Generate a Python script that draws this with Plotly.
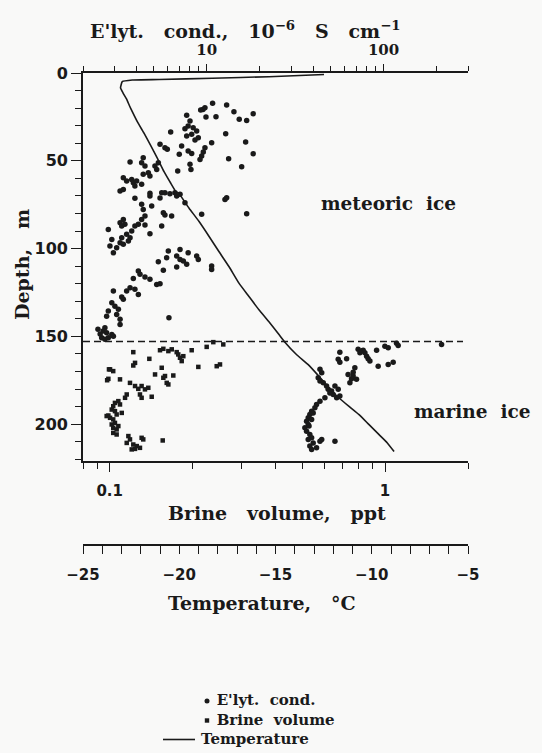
import plotly.graph_objects as go

# ---------------- data ----------------
# Electrolytic conductivity (10^-6 S/cm), meteoric ice
cond_met = [10.8,9.53,9.25,9.78,12.97,14.26,11.29,9.91,7.71,15.28,
            16.83,18.33,8.05,7.86,7.54,8.39,8.78,8.23,7.71,8.97,
            8.59,6.26,7.22,10.67,9.78,9.57,9.37,9.17,12.81,16.61,
            18.33,13.31,15.77,5.45,5.81,5.99,7.00,7.86,8.23,8.05,
            8.15,6.86,5.33,5.10,5.22,3.69,4.38,4.29,4.48,4.68,
            4.78,4.38,3.38,3.53,3.77,3.85,3.93,4.29,4.02,3.24,
            3.38,4.78,5.57,6.62,3.93,4.29,4.78,4.89,5.45,5.81,
            6.20,6.77,5.69,5.81,6.34,4.38,4.48,4.29,3.38,3.24,
            3.45,3.31,2.78,2.91,2.84,2.97,3.10,3.24,3.31,3.53,
            3.77,3.93,4.11,4.48,3.69,3.61,3.38,4.78,5.57,7.07,
            7.54,9.37,12.69,12.97,16.83,6.07,7.07,7.86,8.78,8.97,
            6.77,7.07,7.38,7.71,6.77,5.94,5.33,5.69,10.67,10.67,
            4.11,4.20,4.48,4.78,5.22,5.45,3.85,3.69,3.93,3.53,
            3.31,3.38,2.97,4.11,2.91,3.03,3.17,3.10,3.24,3.24,
            2.78,2.72,2.66,2.60,2.72,2.78,2.55,2.91,2.97,2.66,
            6.12,2.50,2.43]
depth_cond_met = [17.3,20.8,21.1,19.8,18.2,22.1,24.9,25.1,24.1,26.4,
                  27.0,23.2,27.4,30.2,31.7,31.2,33.0,34.9,35.9,36.9,
                  38.2,33.6,41.6,39.7,42.6,45.0,47.3,49.2,34.6,39.3,
                  46.0,48.8,53.4,40.6,42.6,43.5,46.3,44.4,45.8,52.0,
                  54.9,55.8,51.1,53.0,54.9,50.7,48.3,51.1,53.0,56.8,
                  58.7,57.7,59.7,61.5,60.6,62.5,64.4,63.4,61.5,67.2,
                  66.3,68.5,68.2,68.2,71.4,74.8,70.1,75.8,71.2,68.2,
                  68.8,70.1,79.6,80.9,81.5,77.7,81.5,83.4,83.4,85.3,
                  86.2,87.2,89.1,94.8,98.6,102.4,99.5,96.7,93.8,91.9,
                  90.0,87.2,86.2,86.6,93.8,95.7,97.6,91.6,87.2,69.1,
                  73.9,80.5,72.0,71.1,80.2,101.4,100.5,102.4,104.3,106.2,
                  104.3,106.2,107.1,109.0,110.5,105.2,107.5,112.4,110.0,111.9,
                  112.8,114.7,116.2,117.5,120.4,120.1,117.0,122.3,123.2,124.2,
                  127.6,128.9,124.2,126.1,130.9,132.8,134.6,137.5,140.3,143.2,
                  135.6,138.5,145.1,147.0,148.0,150.8,150.8,148.9,149.9,151.7,
                  139.4,148.7,145.9]

# Electrolytic conductivity, marine ice
cond_mar = [56.6,55.4,56.6,61.8,71.8,75.1,78.4,80.2,81.8,83.7,
            76.7,73.5,91.3,101.7,106.2,118.4,120.9,93.2,106.2,113.3,
            68.8,67.3,63.0,65.9,64.5,70.3,67.3,212.7,43.7,44.7,
            42.7,43.7,45.6,47.6,48.6,50.8,51.9,54.3,55.4,56.6,
            53.1,49.7,46.6,43.7,41.8,40.9,39.2,38.3,37.5,36.7,
            37.5,35.9,36.7,38.3,39.2,37.5,40.0,38.3,39.2,41.8,
            43.7,44.7,53.1,40.0,39.2,37.9]
depth_cond_mar = [159.0,163.1,164.7,162.8,157.4,158.4,159.4,161.3,162.8,164.1,
                  157.9,159.4,157.9,155.6,156.5,154.0,155.2,167.0,166.0,164.7,
                  167.9,170.4,171.7,174.2,176.5,174.5,172.6,154.6,168.8,170.8,
                  173.6,175.5,176.5,178.3,180.2,181.2,183.1,185.0,180.2,184.0,
                  178.3,182.2,185.0,186.9,188.8,190.7,192.6,194.5,196.4,198.3,
                  200.2,202.1,204.0,205.9,207.8,208.7,210.7,212.5,214.4,213.5,
                  209.7,208.7,209.7,193.6,197.3,201.1]

# Brine volume (ppt), marine ice
brine = [0.1218,0.1236,0.1218,0.1393,0.1523,0.1566,0.1633,0.1680,0.1751,0.1774,
         0.1800,0.1851,0.1826,0.1985,0.2250,0.2378,0.2585,0.2098,0.1545,0.1461,
         0.2515,0.2447,0.1003,0.1030,0.0989,0.1090,0.1185,0.1236,0.1270,0.1306,
         0.1343,0.1381,0.1288,0.1306,0.1421,0.1153,0.1137,0.1566,0.1611,0.1633,
         0.1702,0.1588,0.1045,0.1075,0.1030,0.1017,0.0989,0.0975,0.1003,0.1030,
         0.1060,0.1045,0.1017,0.1030,0.1060,0.1075,0.1090,0.1106,0.1030,0.1060,
         0.1045,0.1169,0.1185,0.1153,0.1306,0.1324,0.1218,0.1254,0.1202,0.1236,
         0.1288,0.1558,0.0979,0.0994]
depth_brine = [159.0,165.1,166.6,162.8,157.9,157.1,158.4,157.4,159.0,160.3,
               162.2,161.3,164.1,157.9,156.0,153.3,154.6,167.4,167.9,171.7,
               166.0,167.0,168.8,169.8,174.2,174.5,176.5,178.3,179.9,178.3,
               180.2,179.3,183.1,185.0,184.4,183.1,185.0,173.6,176.5,177.4,
               172.3,172.6,187.9,186.9,189.8,191.7,195.1,195.4,196.4,197.3,
               194.5,199.3,200.2,202.1,203.0,201.1,188.8,193.6,205.0,205.9,
               192.6,206.8,208.7,210.7,207.8,208.7,211.6,212.5,214.4,214.1,
               213.5,209.3,175.0,168.8]

# Temperature profile (deg C)
temp = [-12.48,-15.34,-18.28,-21.05,-22.44,-22.96,-23.05,-22.92,-22.74,-22.58,
        -22.44,-22.18,-21.83,-21.48,-21.14,-20.79,-20.44,-20.18,-20.01,-19.49,
        -18.97,-18.45,-17.94,-17.42,-16.90,-16.38,-15.86,-15.34,-14.85,-14.50,
        -13.90,-13.30,-12.74,-12.22,-11.70,-11.18,-10.66,-10.14,-9.62,-9.19,
        -8.84]
depth_temp = [0.85,2.1,3.0,3.7,4.0,4.95,8.5,11.4,14.8,18.8,
              22.0,27.7,34.3,41.3,48.5,56.2,62.8,67.5,68.8,77.0,
              84.6,93.1,101.7,110.2,119.7,127.3,134.9,141.7,148.5,153.5,
              160.5,166.1,172.8,179.4,185.1,189.9,194.6,200.3,206.0,210.7,
              215.6]

boundary_depth = 153  # meteoric / marine ice boundary

depth_ticks = [0, 50, 100, 150, 200]
cond_ticks = [10, 100]
cond_minor = [2, 3, 4, 5, 6, 7, 8, 9, 20, 30, 40, 50, 60, 70, 80, 90, 200, 300]
brine_ticks = [0.1, 1]
brine_labels = ["0.1", "1"]
brine_minor = [0.08, 0.09, 0.2, 0.3, 0.4, 0.5, 0.6, 0.7, 0.8, 0.9, 2]
temp_ticks = [-25, -20, -15, -10, -5]

# ---------------- layout helpers ----------------
W, H = 542, 753
L, R, T, B = 83, 74, 73, 0
PW, PH = W - L - R, H - T - B
PLOT_BOTTOM = 461
TEMP_AXIS_Y = 545


def px(x):
    return (x - L) / PW


def py(y):
    return (H - B - y) / PH


INK = "#1a1a1a"
TXT = "DejaVu Serif"
NUM = "DejaVu Sans"
NB = "\u00a0"

fig = go.Figure()

fig.add_trace(go.Scatter(x=cond_met, y=depth_cond_met, xaxis="x2", yaxis="y",
                         mode="markers", name="E'lyt. cond.",
                         marker=dict(symbol="circle", size=5.5, color=INK)))
fig.add_trace(go.Scatter(x=cond_mar, y=depth_cond_mar, xaxis="x2", yaxis="y",
                         mode="markers", name="E'lyt. cond. (marine)",
                         marker=dict(symbol="circle", size=5.5, color=INK)))
fig.add_trace(go.Scatter(x=brine, y=depth_brine, xaxis="x", yaxis="y",
                         mode="markers", name="Brine volume",
                         marker=dict(symbol="square", size=4.5, color=INK)))
fig.add_trace(go.Scatter(x=temp, y=depth_temp, xaxis="x3", yaxis="y",
                         mode="lines", name="Temperature",
                         line=dict(color=INK, width=1.6, shape="spline", smoothing=0.4)))

axis_common = dict(showline=True, linecolor=INK, linewidth=1.6, showgrid=False,
                   zeroline=False, ticks="outside", tickcolor=INK, tickwidth=1.4)

fig.update_layout(
    width=W, height=H,
    margin=dict(l=L, r=R, t=T, b=B, autoexpand=False),
    paper_bgcolor="#f9f9f8", plot_bgcolor="#f9f9f8",
    showlegend=False,
    font=dict(family=TXT, color=INK),
    xaxis=dict(**axis_common, type="log", range=[-1.09691, 0.30103],
               domain=[0, 1], anchor="y", side="bottom",
               tickvals=brine_ticks, ticktext=brine_labels, ticklen=9,
               ticklabelstandoff=6,
               tickfont=dict(family=NUM, size=15, weight="bold", color=INK),
               minor=dict(tickvals=brine_minor, ticklen=6, ticks="outside",
                          tickcolor=INK, tickwidth=1.4)),
    xaxis2=dict(**axis_common, type="log", range=[0.30103, 2.47712],
                overlaying="x", anchor="y", side="top",
                tickvals=cond_ticks, ticktext=["10", "100"], ticklen=7,
                ticklabelstandoff=3,
                tickfont=dict(family="DejaVu Serif", size=15, weight="bold", color=INK),
                minor=dict(tickvals=cond_minor, ticklen=5, ticks="outside",
                           tickcolor=INK, tickwidth=1.4)),
    xaxis3=dict(**axis_common, range=[-25, -5], overlaying="x", anchor="free",
                position=py(TEMP_AXIS_Y), side="bottom",
                tickvals=temp_ticks, ticklen=8, ticklabelstandoff=8,
                tickfont=dict(family=NUM, size=15, weight="bold", color=INK),
                minor=dict(dtick=1, ticklen=8, ticks="outside",
                           tickcolor=INK, tickwidth=1.4)),
    yaxis=dict(**axis_common, range=[221, 0], domain=[py(PLOT_BOTTOM), 1],
               anchor="x", tickvals=depth_ticks, ticklen=10,
               tickfont=dict(family=NUM, size=16, weight="bold", color=INK),
               minor=dict(dtick=10, ticklen=6, ticks="outside",
                          tickcolor=INK, tickwidth=1.4)),
)

# boundary between meteoric and marine ice
fig.add_shape(type="line", xref="paper", yref="y", x0=0, x1=px(463),
              y0=boundary_depth, y1=boundary_depth,
              line=dict(color=INK, width=1.5, dash="7px,4px"))

ann = []


def add_text(text, x, y, size, angle=0, xanchor="center", family=TXT, weight="bold", align="center"):
    ann.append(dict(text=text, x=px(x), y=py(y), xref="paper", yref="paper",
                    showarrow=False, xanchor=xanchor, yanchor="middle",
                    textangle=angle, align=align,
                    font=dict(family=family, size=size, color=INK, weight=weight)))


SP = NB * 3
add_text("E'lyt." + SP + "cond.," + SP + "10<sup>−6</sup>" + SP + "S" + SP + "cm<sup>−1</sup>",
         245, 30, 19)
add_text("Brine" + SP + "volume," + SP + "ppt", 277, 513, 19)
add_text("Temperature," + SP + "°C", 262, 603, 19)
add_text("Depth," + SP + "m", 22, 265, 19, angle=-90)
add_text("meteoric" + NB * 2 + "ice", 388, 203, 18.5)
add_text("marine" + NB * 2 + "ice", 473, 411, 18.5)

# legend (one text block, three rows)
legend_rows = [NB * 3 + "E'lyt." + NB * 2 + "cond.",
               NB * 3 + "Brine" + NB * 2 + "volume",
               "Temperature"]
add_text("<br>".join(legend_rows), 199, 719.5, 15, xanchor="left", align="left")
fig.update_layout(annotations=ann)

fig.add_shape(type="circle", xref="paper", yref="paper", xsizemode="pixel", ysizemode="pixel",
              xanchor=px(207), yanchor=py(701), x0=-2.5, x1=2.5, y0=-2.5, y1=2.5,
              fillcolor=INK, line=dict(width=0))
fig.add_shape(type="rect", xref="paper", yref="paper", xsizemode="pixel", ysizemode="pixel",
              xanchor=px(207), yanchor=py(720.5), x0=-2.2, x1=2.2, y0=-2.2, y1=2.2,
              fillcolor=INK, line=dict(width=0))
fig.add_shape(type="line", xref="paper", yref="paper", x0=px(163), x1=px(195),
              y0=py(739.5), y1=py(739.5), line=dict(color=INK, width=1.6))

fig.write_html("out.html")
